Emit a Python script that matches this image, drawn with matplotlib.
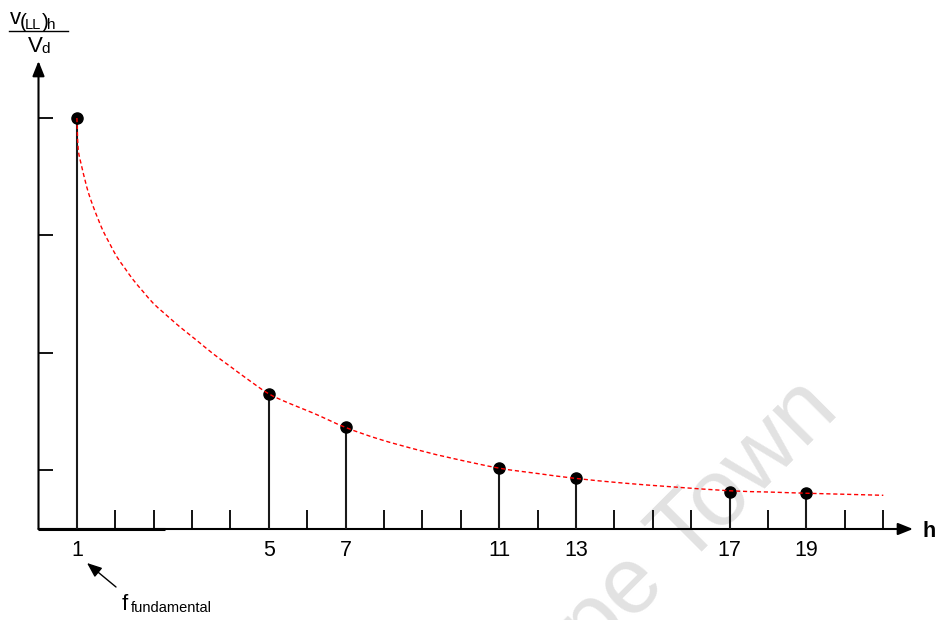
import matplotlib
matplotlib.use("Agg")
import matplotlib.pyplot as plt
from matplotlib.path import Path
from matplotlib.patches import PathPatch

plt.rcParams['font.family'] = ['Liberation Sans', 'DejaVu Sans']

# ---- data ----
# harmonic orders and their position on the (non-uniform) drawn axis
harmonic_labels = ['1', '5', '7', '11', '13', '17', '19']
harmonic_pos = [1, 6, 8, 12, 14, 18, 20]
# normalised amplitude v(LL)h / Vd (fundamental = 1)
harmonic_vals = [1.0, 0.328, 0.247, 0.148, 0.123, 0.091, 0.087]

# envelope curve (red dashed)
curve_pos = [1.0, 1.01, 1.036, 1.125, 1.211, 1.297, 1.427, 1.557, 1.688,
             1.862, 2.036, 2.253, 2.469, 2.729, 2.990, 3.25, 3.469, 3.685,
             4.12, 4.552, 4.987, 5.422, 5.995, 6.55, 7.156, 8.0, 8.893,
             9.935, 10.8, 12.0, 13.0, 14.0, 15.2, 16.44, 18.0, 19.0, 20.0,
             21.0, 22.0]
curve_vals = [1.0, 0.975, 0.922, 0.882, 0.849, 0.819, 0.784, 0.753, 0.724,
              0.693, 0.663, 0.634, 0.606, 0.577, 0.549, 0.527, 0.509, 0.4915,
              0.459, 0.426, 0.396, 0.366, 0.329, 0.305, 0.282, 0.247, 0.218,
              0.191, 0.1715, 0.148, 0.135, 0.123, 0.112, 0.103, 0.093, 0.090,
              0.087, 0.0845, 0.082]

x_ticks = list(range(1, 23))
y_ticks = [0.1436, 0.4282, 0.7153, 1.0]

# ---- layout helpers (pixel -> data for annotation placement) ----
def kx(px):
    return (px - 38.5) / 38.4

def vy(py):
    return (529 - py) / 411.0

fig = plt.figure(figsize=(9.37, 6.2), dpi=100)
ax = fig.add_axes([0, 0, 1, 1])
ax.set_xlim(kx(0), kx(937))
ax.set_ylim(vy(620), vy(0))
ax.axis('off')

# watermark
ax.text(kx(657), vy(562), 'Cape Town', rotation=45, rotation_mode='anchor',
        ha='center', va='center', fontsize=68, color='#e2e2e2', zorder=0)

# axes with arrows
arrow_kw = dict(arrowstyle='-|>,head_length=0.45,head_width=0.18',
                lw=1.5, color='black', mutation_scale=20,
                shrinkA=0, shrinkB=0)
ax.annotate('', xy=(kx(913), 0), xytext=(0, 0), arrowprops=arrow_kw, zorder=3)
ax.annotate('', xy=(0, vy(61)), xytext=(0, 0), arrowprops=arrow_kw, zorder=3)
# slightly thicker start of the x axis
ax.plot([0, kx(165)], [0, 0], color='black', lw=2.2, solid_capstyle='butt', zorder=3)

# x tick marks
ax.vlines(x_ticks, 0, vy(510), color='black', lw=1.3, zorder=2)
# y tick marks
ax.hlines(y_ticks, 0, kx(53), color='black', lw=1.3, zorder=2)

# stems and dots
ax.vlines(harmonic_pos, 0, harmonic_vals, color='#1a1a1a', lw=1.5, zorder=3)
ax.plot(harmonic_pos, harmonic_vals, 'o', ms=8.0, color='black', zorder=4)

# envelope: smooth Bezier path through the read points (Catmull-Rom)
pts = list(zip(curve_pos, curve_vals))
verts = [pts[0]]
codes = [Path.MOVETO]
n = len(pts)
for i in range(n - 1):
    p0 = pts[i - 1] if i > 0 else pts[i]
    p1 = pts[i]
    p2 = pts[i + 1]
    p3 = pts[i + 2] if i + 2 < n else pts[i + 1]
    c1 = (p1[0] + (p2[0] - p0[0]) / 6.0, p1[1] + (p2[1] - p0[1]) / 6.0)
    c2 = (p2[0] - (p3[0] - p1[0]) / 6.0, p2[1] - (p3[1] - p1[1]) / 6.0)
    verts += [c1, c2, p2]
    codes += [Path.CURVE4, Path.CURVE4, Path.CURVE4]
ax.add_patch(PathPatch(Path(verts, codes), facecolor='none', edgecolor='red',
                       lw=1.0, ls=(0, (3, 2)), zorder=5))

# tick labels
for p, lab in zip(harmonic_pos, harmonic_labels):
    ax.text(p, vy(556), lab, ha='center', va='baseline', fontsize=15.5)

# x axis label
ax.text(kx(929), vy(537), 'h', ha='center', va='baseline', fontsize=15.5,
        fontweight='bold')

# y axis label (fraction)
ax.text(kx(10), vy(24.5), 'v', ha='left', va='baseline', fontsize=16)
ax.text(kx(19.5), vy(27.5), '(', ha='left', va='baseline', fontsize=15)
ax.text(kx(25), vy(28.5), 'LL', ha='left', va='baseline', fontsize=10.5)
ax.text(kx(41.5), vy(27.5), ')', ha='left', va='baseline', fontsize=15)
ax.text(kx(47.5), vy(28.5), 'h', ha='left', va='baseline', fontsize=11)
ax.plot([kx(9), kx(68)], [vy(30.7), vy(30.7)], color='black', lw=1.0)
ax.text(kx(27.5), vy(52), 'V', ha='left', va='baseline', fontsize=16)
ax.text(kx(41.5), vy(53), 'd', ha='left', va='baseline', fontsize=11)

# fundamental annotation
ax.annotate('', xy=(kx(87), vy(563)), xytext=(kx(116), vy(587)),
            arrowprops=dict(arrowstyle='-|>,head_length=0.5,head_width=0.2',
                            lw=1.0, color='black', mutation_scale=18,
                            shrinkA=0, shrinkB=0))
ax.text(kx(122), vy(610), 'f', ha='left', va='baseline', fontsize=16)
ax.text(kx(131), vy(612), 'fundamental', ha='left', va='baseline', fontsize=10.5)

fig.savefig('out.png', dpi=100)
